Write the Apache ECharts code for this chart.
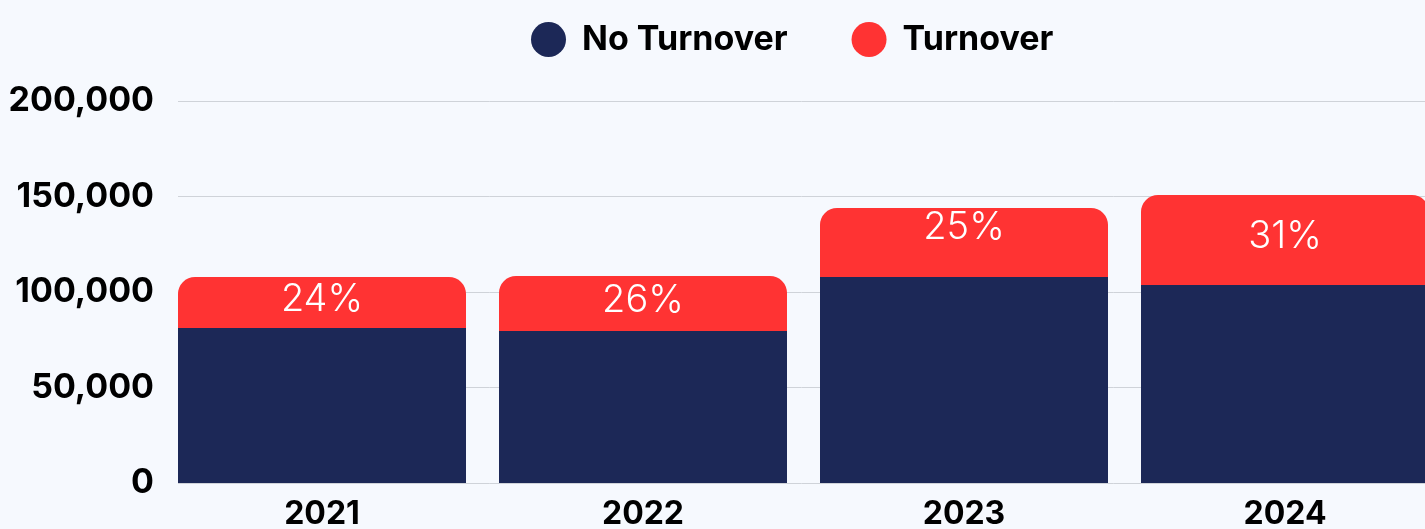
<!DOCTYPE html>
<html>
<head>
<meta charset="utf-8">
<script src="https://cdn.jsdelivr.net/npm/echarts@6/dist/echarts.min.js"></script>
<style>
  html, body { margin: 0; padding: 0; background: #f6f9fe; }
  #chart { width: 1425px; height: 529px; }
</style>
</head>
<body>
<div id="chart"></div>
<script>
// data
const years = ['2021', '2022', '2023', '2024'];
const noTurnover = [81200, 79600, 107900, 103700];
const turnover = [26700, 28800, 36100, 47100];
const turnoverPct = ['24%', '26%', '25%', '31%'];
const yTicks = [0, 50000, 100000, 150000, 200000];

const navy = '#1c2857';
const red = '#ff3333';
const font = 'Inter';

let myChart = echarts.init(document.getElementById('chart'));

// small nudge per label, the 2023 one sits higher in the original
const labelShift = [0, 0, -12, 0];

let option = {
  backgroundColor: '#f6f9fe',
  animation: false,
  legend: {
    left: 526,
    top: 17,
    itemWidth: 35,
    itemHeight: 35,
    itemGap: 64,
    icon: 'circle',
    textStyle: {
      fontFamily: font,
      fontWeight: 'bold',
      fontSize: 34,
      color: '#000',
      padding: [0, 0, 0, 11]
    },
    data: ['No Turnover', 'Turnover']
  },
  grid: [
    // grid for the y axis and its lines
    { left: 178, right: 0, top: 101, bottom: 46, outerBoundsMode: 'none' },
    // grid for the bars, wider so the bars sit flush with the left line end
    { left: 161.5, right: -20.5, top: 101, bottom: 46, outerBoundsMode: 'none' }
  ],
  xAxis: [
    { type: 'category', gridIndex: 0, data: years, show: false },
    {
      type: 'category',
      gridIndex: 1,
      data: years,
      axisLine: { show: false },
      axisTick: { show: false },
      axisLabel: {
        margin: 15,
        fontFamily: font,
        fontWeight: 'bold',
        fontSize: 32,
        color: '#000'
      }
    }
  ],
  yAxis: [
    {
      type: 'value',
      gridIndex: 0,
      min: yTicks[0],
      max: yTicks[yTicks.length - 1],
      interval: 50000,
      axisLine: { show: false },
      axisTick: { show: false },
      splitLine: { lineStyle: { color: '#cfd3d9', width: 1 } },
      axisLabel: {
        margin: 24,
        fontFamily: font,
        fontWeight: 'bold',
        fontSize: 34,
        color: '#000',
        formatter: v => v.toLocaleString('en-US')
      }
    },
    {
      type: 'value',
      gridIndex: 1,
      min: yTicks[0],
      max: yTicks[yTicks.length - 1],
      show: false
    }
  ],
  series: [
    {
      name: 'No Turnover',
      type: 'bar',
      stack: 'total',
      xAxisIndex: 1,
      yAxisIndex: 1,
      barWidth: 288,
      itemStyle: { color: navy },
      data: noTurnover
    },
    {
      name: 'Turnover',
      type: 'bar',
      stack: 'total',
      xAxisIndex: 1,
      yAxisIndex: 1,
      barWidth: 288,
      itemStyle: { color: red, borderRadius: [17, 17, 0, 0] },
      label: {
        show: true,
        position: 'inside',
        fontFamily: font,
        fontWeight: 300,
        fontSize: 38,
        color: '#fff'
      },
      data: turnover.map((v, i) => ({
        value: v,
        label: { formatter: turnoverPct[i], offset: [0, -3 + labelShift[i]] }
      }))
    }
  ]
};

myChart.setOption(option);
</script>
</body>
</html>
